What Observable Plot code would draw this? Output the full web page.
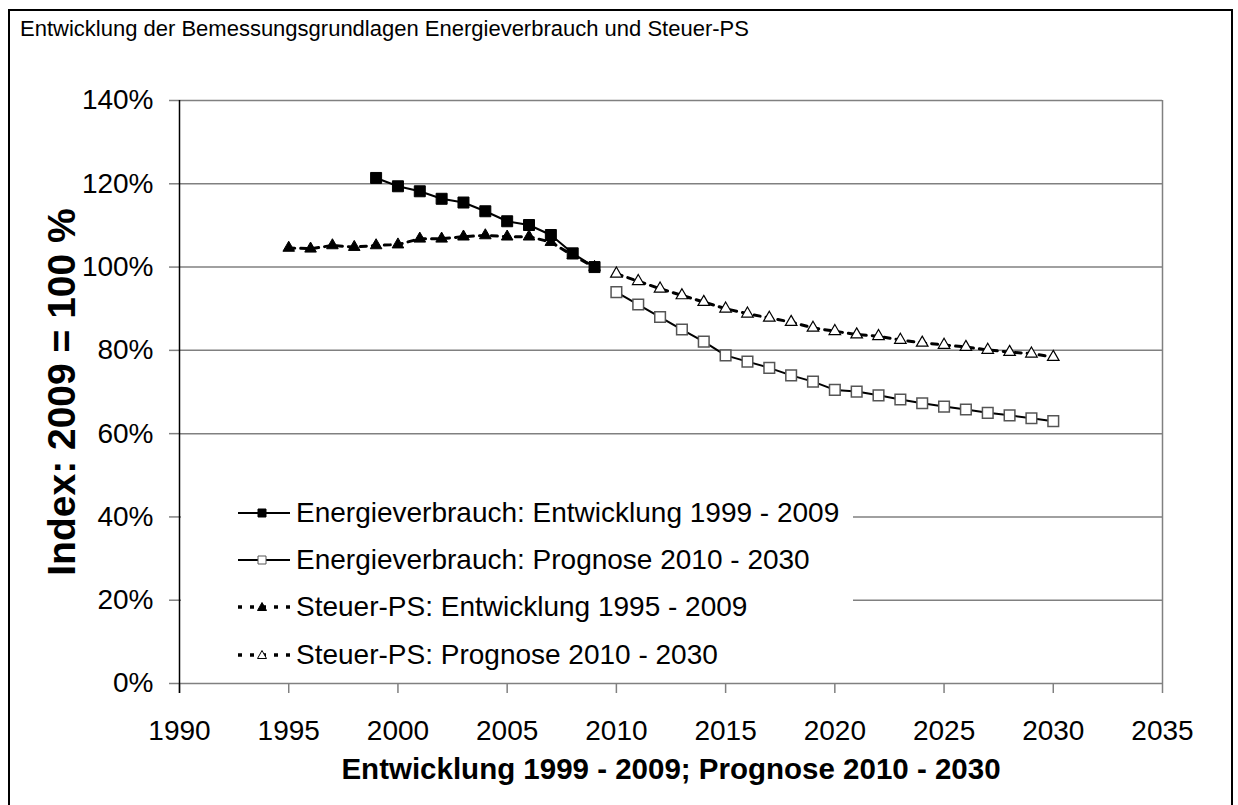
<!DOCTYPE html>
<html>
<head>
<meta charset="utf-8">
<script src="https://cdn.jsdelivr.net/npm/d3@7"></script>
<script src="https://cdn.jsdelivr.net/npm/@observablehq/plot@0.6"></script>
<style>
  body { margin: 0; background: #fff; font-family: "Liberation Sans", Arial, sans-serif; }
  #wrap { position: relative; width: 1238px; height: 805px; overflow: hidden; background: #fff; }
  #frame { position: absolute; left: 8px; top: 9px; width: 1225px; height: 830px; border: 2px solid #000; box-sizing: border-box; }
  #title { position: absolute; left: 20px; top: 18px; font-size: 22px; line-height: 22px; white-space: nowrap; }
  #chart { position: absolute; left: 0; top: 0; }
  #legend { position: absolute; left: 181px; top: 470px; width: 672px; height: 205px; background: #fff; }
  .row { position: absolute; left: 0; height: 32px; width: 672px; }
  .row svg { position: absolute; left: 57px; top: 6px; }
  .row span { position: absolute; left: 115px; top: 0; font-size: 28px; line-height: 32px; white-space: nowrap; }
</style>
</head>
<body>
<div id="wrap">
  <div id="frame"></div>
  <div id="chart"></div>
  <div id="title"></div>
  <div id="legend"></div>
</div>
<script>
// ---- data ----
const titleText = "Entwicklung der Bemessungsgrundlagen Energieverbrauch und Steuer-PS";
const xLabel = "Entwicklung 1999 - 2009; Prognose 2010 - 2030";
const yLabel = "Index: 2009 = 100 %";

const xTicks = [1990, 1995, 2000, 2005, 2010, 2015, 2020, 2025, 2030, 2035];
const yTicks = [0, 20, 40, 60, 80, 100, 120, 140];

const seriesNames = [
  "Energieverbrauch: Entwicklung 1999 - 2009",
  "Energieverbrauch: Prognose 2010 - 2030",
  "Steuer-PS: Entwicklung 1995 - 2009",
  "Steuer-PS: Prognose 2010 - 2030"
];

const yearsEvHist = [1999, 2000, 2001, 2002, 2003, 2004, 2005, 2006, 2007, 2008, 2009];
const evHist = [121.4, 119.4, 118.2, 116.4, 115.5, 113.4, 111.0, 110.1, 107.7, 103.3, 100.0];

const yearsPsHist = [1995, 1996, 1997, 1998, 1999, 2000, 2001, 2002, 2003, 2004, 2005, 2006, 2007, 2008, 2009];
const psHist = [104.6, 104.4, 105.2, 104.8, 105.2, 105.4, 106.8, 106.8, 107.3, 107.6, 107.3, 107.3, 106.0, 102.8, 100.0];

const yearsProg = [2010, 2011, 2012, 2013, 2014, 2015, 2016, 2017, 2018, 2019, 2020,
                   2021, 2022, 2023, 2024, 2025, 2026, 2027, 2028, 2029, 2030];
const evProg = [94.0, 91.0, 88.0, 85.0, 82.1, 78.8, 77.3, 75.8, 74.0, 72.5, 70.5,
                70.1, 69.2, 68.2, 67.3, 66.5, 65.8, 65.0, 64.4, 63.7, 63.0];
const psProg = [98.4, 96.6, 94.8, 93.2, 91.6, 90.0, 88.8, 87.8, 86.8, 85.4, 84.6,
                83.8, 83.4, 82.5, 81.8, 81.3, 80.8, 80.1, 79.6, 79.2, 78.4];

// ---- tables ----
const toRows = (years, vals) => years.map((year, i) => ({year, value: vals[i]}));
const evHistRows = toRows(yearsEvHist, evHist);
const evProgRows = toRows(yearsProg, evProg);
const psHistRows = toRows(yearsPsHist, psHist);
const psProgRows = toRows(yearsProg, psProg);

const GRID = "#808080";
const DASH = "6,6";

document.getElementById("title").textContent = titleText;

const chart = Plot.plot({
  width: 1238,
  height: 805,
  marginLeft: 179,
  marginRight: 76,
  marginTop: 100,
  marginBottom: 122,
  style: {fontFamily: "'Liberation Sans', Arial, sans-serif", background: "transparent", overflow: "visible", color: "#000"},
  x: {domain: [1990, 2035]},
  y: {domain: [0, 140]},
  marks: [
    Plot.gridY(yTicks, {stroke: GRID, strokeOpacity: 1, strokeWidth: 1.5}),
    Plot.ruleX([2035], {stroke: GRID, strokeWidth: 1.5}),
    Plot.axisX(xTicks, {tickSize: 10, tickPadding: 27, stroke: GRID, strokeWidth: 1.5, fontSize: 28, tickFormat: d => String(d), label: null}),
    Plot.axisY(yTicks, {tickSize: 10, tickPadding: 16, stroke: GRID, strokeWidth: 1.5, fontSize: 28, tickFormat: d => d + "%", label: null}),
    Plot.ruleX([1990], {stroke: "#000", strokeWidth: 1.5, insetBottom: -10}),

    // Steuer-PS
    Plot.line(psHistRows, {x: "year", y: "value", stroke: "#000", strokeWidth: 3, strokeDasharray: DASH}),
    Plot.line(psProgRows, {x: "year", y: "value", stroke: "#000", strokeWidth: 3, strokeDasharray: DASH}),
    Plot.dot(psHistRows, {x: "year", y: "value", symbol: "triangle", r: 4.3, fill: "#000", stroke: "#000", strokeWidth: 1}),
    Plot.dot(psProgRows, {x: "year", y: "value", symbol: "triangle", r: 4.3, fill: "#fff", stroke: "#000", strokeWidth: 1.2}),

    // Energieverbrauch
    Plot.line(evHistRows, {x: "year", y: "value", stroke: "#000", strokeWidth: 2}),
    Plot.line(evProgRows, {x: "year", y: "value", stroke: "#000", strokeWidth: 2}),
    Plot.dot(evHistRows, {x: "year", y: "value", symbol: "square", r: 6.2, fill: "#000", stroke: "#000", strokeWidth: 1}),
    Plot.dot(evProgRows, {x: "year", y: "value", symbol: "square", r: 6.0, fill: "#fff", stroke: "#555", strokeWidth: 1.5}),

    Plot.text([xLabel], {text: d => d, frameAnchor: "bottom", dy: 95, fontSize: 29.5, fontWeight: "bold"}),
    Plot.text([yLabel], {text: d => d, frameAnchor: "left", textAnchor: "middle", dx: -117, rotate: -90, fontSize: 39, fontWeight: "bold"})
  ]
});
document.getElementById("chart").appendChild(chart);

// ---- legend ----
const legendCenters = [513, 560, 607, 655];
const legendStyles = [
  {dash: null, sym: "square", fill: "#000", stroke: "#000"},
  {dash: null, sym: "square", fill: "#fff", stroke: "#555"},
  {dash: "4,8", sym: "triangle", fill: "#000", stroke: "#000"},
  {dash: "4,8", sym: "triangle", fill: "#fff", stroke: "#000"}
];
const legend = document.getElementById("legend");
seriesNames.forEach((name, i) => {
  const st = legendStyles[i];
  const row = document.createElement("div");
  row.className = "row";
  row.style.top = (legendCenters[i] - 470 - 16) + "px";
  const ns = "http://www.w3.org/2000/svg";
  const svg = document.createElementNS(ns, "svg");
  svg.setAttribute("width", 54);
  svg.setAttribute("height", 20);
  const line = document.createElementNS(ns, "line");
  line.setAttribute("x1", 0); line.setAttribute("x2", 52);
  line.setAttribute("y1", 10); line.setAttribute("y2", 10);
  line.setAttribute("stroke", "#000");
  line.setAttribute("stroke-width", st.dash ? 3.5 : 2);
  if (st.dash) line.setAttribute("stroke-dasharray", st.dash);
  svg.appendChild(line);
  const p = document.createElementNS(ns, "path");
  p.setAttribute("d", st.sym === "square" ? "M20,6h8v8h-8z" : "M24,5.5L28.5,13.5L19.5,13.5z");
  p.setAttribute("fill", st.fill);
  p.setAttribute("stroke", st.stroke);
  p.setAttribute("stroke-width", 1);
  svg.appendChild(p);
  row.appendChild(svg);
  const span = document.createElement("span");
  span.textContent = name;
  row.appendChild(span);
  legend.appendChild(row);
});
</script>
</body>
</html>
